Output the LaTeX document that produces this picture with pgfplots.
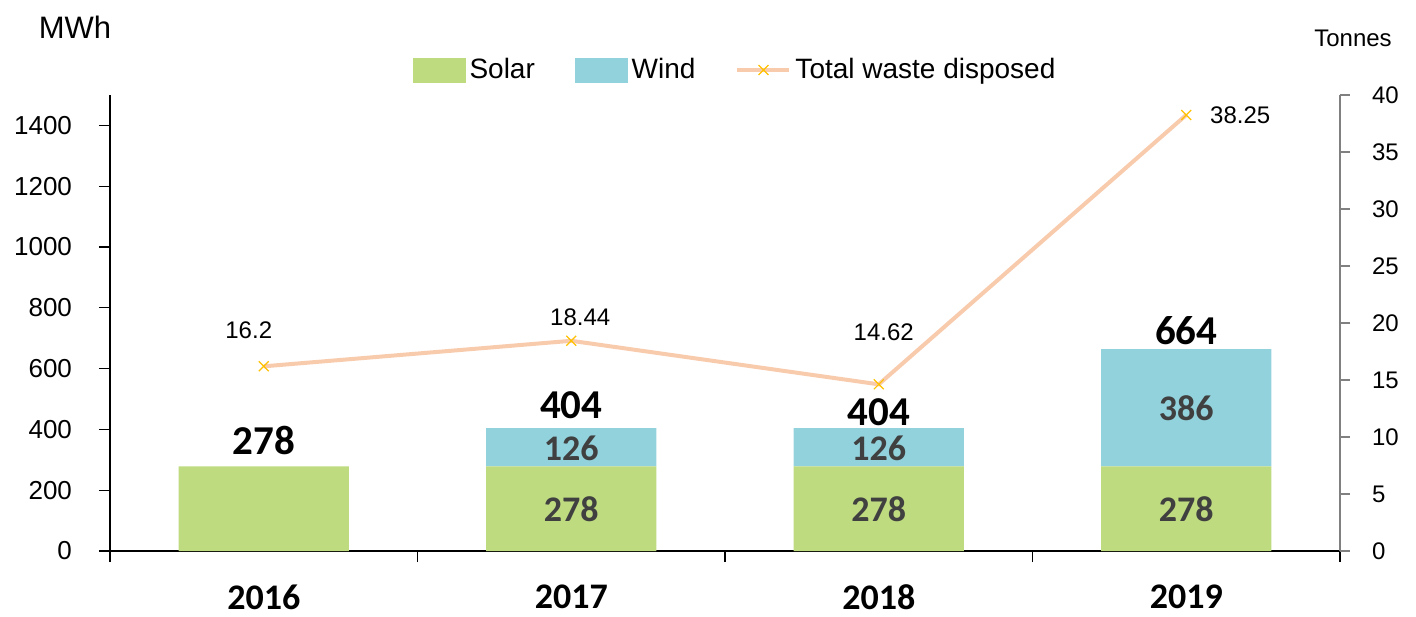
\documentclass[border=0pt]{standalone}
\usepackage{pgfplots}
\pgfplotsset{compat=1.18}
\usepackage{fontspec}
\setmainfont{Liberation Sans}
\newfontfamily\carlito{Carlito}
\definecolor{solarc}{RGB}{190,219,128}
\definecolor{windc}{RGB}{146,210,220}
\definecolor{linec}{RGB}{248,203,173}
\definecolor{markc}{RGB}{255,192,0}
\definecolor{lblc}{RGB}{64,64,64}
\tikzset{
  seglbl/.style={font=\carlito\bfseries\fontsize{18}{18}\selectfont, text=lblc, inner sep=1pt},
  totlbl/.style={font=\carlito\bfseries\fontsize{20.5}{20.5}\selectfont, text=black, inner sep=1pt},
  yearlbl/.style={font=\carlito\bfseries\fontsize{18}{18}\selectfont, text=black, yshift=-23pt, inner sep=1pt},
  linelbl/.style={font=\fontsize{12}{12}\selectfont},
}
\pgfplotsset{
  mylineleg/.style={legend image code/.code={\draw[mark repeat=2,mark phase=2,##1] plot coordinates {(0pt,0pt) (13pt,0pt) (26pt,0pt)};}},
  solarleg/.style={legend image code/.code={\fill[solarc] (0pt,-6pt) rectangle (26pt,6pt);}},
  windleg/.style={legend image code/.code={\fill[windc] (0pt,-6pt) rectangle (26pt,6pt);}},
}
\begin{document}
\begin{tikzpicture}
\path[use as bounding box] (-55pt,-32.5pt) rectangle (653pt,275.5pt);
\begin{axis}[
  at={(0pt,0pt)}, anchor=south west,
  scale only axis, width=615pt, height=228pt,
  xmin=-0.5, xmax=3.5, ymin=0, ymax=1500,
  axis x line*=bottom, axis y line*=left,
  x axis line style={line width=0.9pt,-},
  y axis line style={line width=0.6pt,-},
  tick align=outside, major tick length=5.5pt,
  xtick={-0.5,0.5,1.5,2.5,3.5}, xticklabels={},
  xtick style={black,line width=0.8pt},
  ytick={0,200,...,1400},
  ytick style={black,line width=0.6pt},
  yticklabel style={font=\fontsize{13}{13}\selectfont, xshift=-10pt},
  /pgf/number format/assume math mode=true, /pgf/number format/1000 sep={},
  clip=false,
  ybar stacked, bar width=0.553,
]
\addplot[fill=solarc, draw=none] coordinates {(0,278) (1,278) (2,278) (3,278)};
\addplot[fill=windc, draw=none] coordinates {(0,0) (1,126) (2,126) (3,386)};
\node[totlbl] at (axis cs:0,365) {278};
\node[totlbl] at (axis cs:1,480) {404};
\node[totlbl] at (axis cs:2,458) {404};
\node[totlbl] at (axis cs:3,726) {664};
\node[yearlbl] at (axis cs:0,0) {2016};
\node[yearlbl] at (axis cs:1,0) {2017};
\node[yearlbl] at (axis cs:2,0) {2018};
\node[yearlbl] at (axis cs:3,0) {2019};
\end{axis}
\begin{axis}[
  at={(0pt,0pt)}, anchor=south west,
  scale only axis, width=615pt, height=228pt,
  xmin=-0.5, xmax=3.5, ymin=0, ymax=40,
  axis x line=none, axis y line*=right,
  y axis line style={gray,line width=0.6pt,-},
  ytick={0,5,...,40},
  ytick style={gray,line width=0.6pt}, tick align=outside, major tick length=5pt,
  yticklabel style={font=\fontsize{12}{12}\selectfont, xshift=7.5pt},
  /pgf/number format/assume math mode=true,
  clip=false,
  legend columns=3,
  legend style={at={(0.509,1.055)}, anchor=center, draw=none, fill=none,
    font=\fontsize{14}{14}\selectfont,
    /tikz/every even column/.append style={column sep=18pt}},
]
\addlegendimage{solarleg}
\addlegendentry{Solar}
\addlegendimage{windleg}
\addlegendentry{Wind}
\addplot[linec, line width=2pt, mark=x, mark size=3.5pt,
  mark options={draw=markc, line width=0.6pt, solid}, mylineleg]
  coordinates {(0,16.2) (1,18.44) (2,14.62) (3,38.25)};
\addlegendentry{Total waste disposed}
% segment labels (bar values 139, 339, 471 MWh mapped to the 0-40 scale)
\node[seglbl] at (axis cs:1,3.707) {278};
\node[seglbl] at (axis cs:2,3.707) {278};
\node[seglbl] at (axis cs:3,3.707) {278};
\node[seglbl] at (axis cs:1,9.0) {126};
\node[seglbl] at (axis cs:2,9.0) {126};
\node[seglbl] at (axis cs:3,12.56) {386};
\node[linelbl] at (axis cs:0,16.2) [xshift=-7.5pt, yshift=18pt] {16.2};
\node[linelbl] at (axis cs:1,18.44) [xshift=4.5pt, yshift=12pt] {18.44};
\node[linelbl] at (axis cs:2,14.62) [xshift=2.5pt, yshift=26pt] {14.62};
\node[linelbl] at (axis cs:3,38.25) [xshift=27pt] {38.25};
\end{axis}
\node[font=\fontsize{15.5}{15.5}\selectfont] at (-17.5pt,262pt) {MWh};
\node[font=\fontsize{12}{12}\selectfont] at (621.5pt,256.5pt) {Tonnes};
\end{tikzpicture}
\end{document}
